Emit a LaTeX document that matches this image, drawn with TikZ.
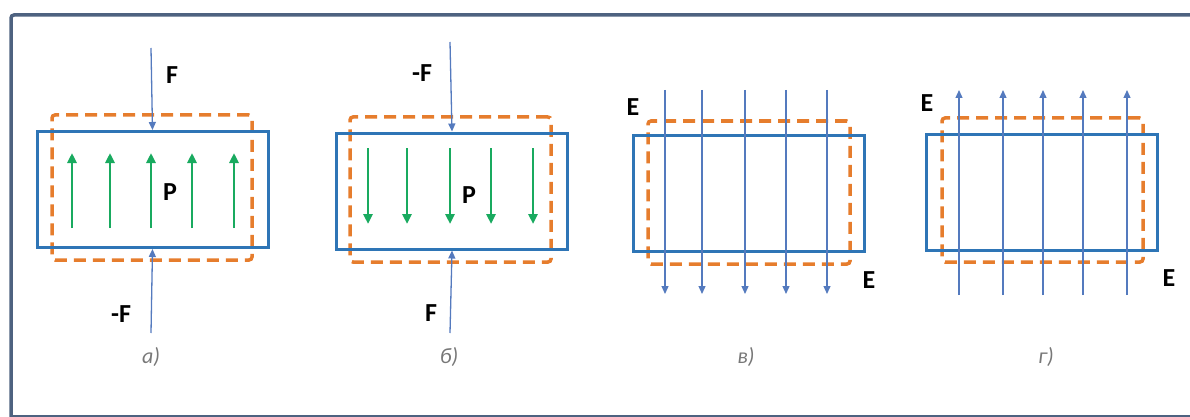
\documentclass[tikz,border=0pt]{standalone}
\usepackage{fontspec}
\setmainfont{Carlito}
\usetikzlibrary{arrows.meta,positioning}
\definecolor{myblue}{RGB}{46,117,182}
\definecolor{myline}{RGB}{84,122,190}
\definecolor{myorange}{RGB}{230,125,45}
\definecolor{mygreen}{RGB}{25,170,95}
\definecolor{myframe}{RGB}{78,98,128}
\definecolor{mygray}{RGB}{120,120,120}

\begin{document}
\begin{tikzpicture}[x=1pt,y=-1pt]
    \tikzstyle{plate}=[draw=myblue, line width=3pt, minimum width=231pt, minimum height=116pt, inner sep=0pt]
    \tikzstyle{charge}=[draw=myorange, line width=3.5pt, dash pattern=on 12pt off 7pt, rounded corners=3pt, inner sep=0pt]
    \tikzstyle{force}=[myline, line width=1.3pt, -{Triangle[length=8pt,width=7pt]}]
    \tikzstyle{field}=[myline, line width=1.3pt, -{Triangle[length=8pt,width=7pt]}]
    \tikzstyle{pol}=[mygreen, line width=2.6pt, -{Triangle[length=10pt,width=9pt]}]
    \tikzstyle{lbl}=[font=\fontsize{26}{28}\selectfont\bfseries, inner sep=0pt]
    \tikzstyle{sublbl}=[font=\fontsize{22}{24}\selectfont\itshape, text=mygray, inner sep=0pt]
    \useasboundingbox (0,0) rectangle (1190,417);
    % frame
    \draw[myframe, line width=3.5pt, rounded corners=3pt] (1195,15) -- (11,15) -- (11,422);
    \draw[myframe, line width=2pt] (11,415.5) -- (1195,415.5);

    % a)
    \node[charge, minimum width=200pt, minimum height=145pt] (oa) at (152,187.5) {};
    \node[plate] (ba) at (152.5,189.5) {};
    \foreach \x in {72,110,151,192,234} \draw[pol] (\x,228) -- (\x,153);
    \coordinate (fa1) at (151,48);
    \coordinate (fa2) at (151,333);
    \draw[force] (fa1) -- (ba.north);
    \draw[force] (fa2) -- (ba.south);
    \node[lbl] (Fa) at (172,75) {F};
    \node[lbl] (mFa) at (121,314) {-F};
    \node[lbl] (Pa) at (170,192) {P};
    \node[sublbl] (ca) at (151,357) {а)};

    % b)
    \node[charge, minimum width=201pt, minimum height=145pt] (ob) at (450.5,189.5) {};
    \node[plate] (bb) at (452,191) {};
    \foreach \x in {368,407,450,491,533} \draw[pol] (\x,148) -- (\x,224);
    \coordinate (fb1) at (450,42);
    \coordinate (fb2) at (450,333);
    \draw[force] (fb1) -- (bb.north);
    \draw[force] (fb2) -- (bb.south);
    \node[lbl] (mFb) at (422,73) {-F};
    \node[lbl] (Fb) at (431,313) {F};
    \node[lbl] (Pb) at (469,195) {P};
    \node[sublbl] (cb) at (449,357) {б)};

    % v)
    \node[charge, minimum width=202pt, minimum height=143pt] (oc) at (749,192.5) {};
    \node[plate] (bc) at (748.5,193.5) {};
    \foreach \x in {665,702,745,786,827} \draw[field] (\x,90) -- (\x,294);
    \node[lbl] (Ec1) at (633,107) {E};
    \node[lbl] (Ec2) at (869,280) {E};
    \node[sublbl] (cc) at (746,357) {в)};

    % g)
    \node[charge, minimum width=201pt, minimum height=144pt] (od) at (1042.5,190) {};
    \node[plate] (bd) at (1041.5,192.5) {};
    \foreach \x in {959,1003,1043,1083,1127} \draw[field] (\x,295) -- (\x,90);
    \node[lbl] (Ed1) at (927,103) {E};
    \node[lbl] (Ed2) at (1169,278) {E};
    \node[sublbl] (cd) at (1046,357) {г)};
  \end{tikzpicture}
\end{document}
